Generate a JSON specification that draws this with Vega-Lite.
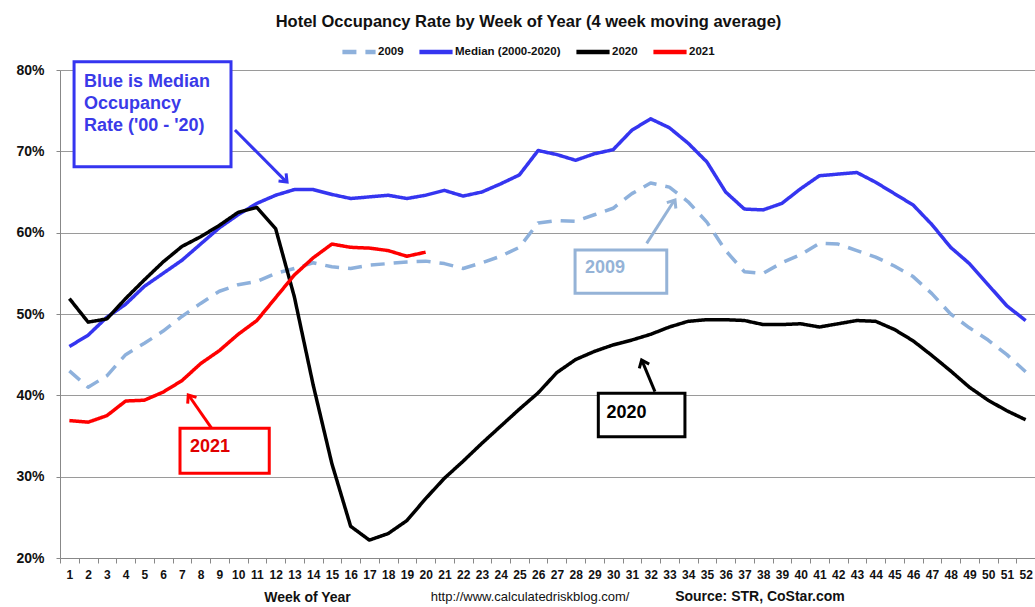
{
  "$schema": "https://vega.github.io/schema/vega-lite/v6.json",
  "width": 975,
  "height": 488,
  "autosize": {"type": "none"},
  "padding": {"left": 60, "top": 70, "right": 0, "bottom": 49},
  "background": "white",
  "title": {
    "text": "Hotel Occupancy Rate by  Week of Year (4 week moving average)",
    "anchor": "middle",
    "dx": -19,
    "offset": 3,
    "font": "Liberation Sans Narrow, Arial Narrow, sans-serif",
    "fontSize": 16.5,
    "fontWeight": "bold",
    "color": "#111111"
  },
  "config": {
    "view": {"stroke": null},
    "font": "Liberation Sans"
  },
  "datasets": {
    "occ": [
      {"week":1,"series":"2009","pct":43.0},{"week":2,"series":"2009","pct":41.0},{"week":3,"series":"2009","pct":42.4},{"week":4,"series":"2009","pct":45.0},{"week":5,"series":"2009","pct":46.4},{"week":6,"series":"2009","pct":47.9},{"week":7,"series":"2009","pct":49.7},{"week":8,"series":"2009","pct":51.3},{"week":9,"series":"2009","pct":52.8},{"week":10,"series":"2009","pct":53.6},{"week":11,"series":"2009","pct":54.0},{"week":12,"series":"2009","pct":55.0},{"week":13,"series":"2009","pct":55.6},{"week":14,"series":"2009","pct":56.3},{"week":15,"series":"2009","pct":55.8},{"week":16,"series":"2009","pct":55.6},{"week":17,"series":"2009","pct":56.0},{"week":18,"series":"2009","pct":56.2},{"week":19,"series":"2009","pct":56.4},{"week":20,"series":"2009","pct":56.5},{"week":21,"series":"2009","pct":56.2},{"week":22,"series":"2009","pct":55.6},{"week":23,"series":"2009","pct":56.3},{"week":24,"series":"2009","pct":57.1},{"week":25,"series":"2009","pct":58.2},{"week":26,"series":"2009","pct":61.2},{"week":27,"series":"2009","pct":61.5},{"week":28,"series":"2009","pct":61.4},{"week":29,"series":"2009","pct":62.2},{"week":30,"series":"2009","pct":63.0},{"week":31,"series":"2009","pct":64.8},{"week":32,"series":"2009","pct":66.1},{"week":33,"series":"2009","pct":65.6},{"week":34,"series":"2009","pct":63.8},{"week":35,"series":"2009","pct":61.3},{"week":36,"series":"2009","pct":57.8},{"week":37,"series":"2009","pct":55.2},{"week":38,"series":"2009","pct":55.0},{"week":39,"series":"2009","pct":56.3},{"week":40,"series":"2009","pct":57.3},{"week":41,"series":"2009","pct":58.7},{"week":42,"series":"2009","pct":58.6},{"week":43,"series":"2009","pct":57.8},{"week":44,"series":"2009","pct":57.0},{"week":45,"series":"2009","pct":55.9},{"week":46,"series":"2009","pct":54.6},{"week":47,"series":"2009","pct":52.5},{"week":48,"series":"2009","pct":50.0},{"week":49,"series":"2009","pct":48.3},{"week":50,"series":"2009","pct":46.8},{"week":51,"series":"2009","pct":45.0},{"week":52,"series":"2009","pct":42.9},
      {"week":1,"series":"Median (2000-2020)","pct":46.0},{"week":2,"series":"Median (2000-2020)","pct":47.4},{"week":3,"series":"Median (2000-2020)","pct":49.6},{"week":4,"series":"Median (2000-2020)","pct":51.2},{"week":5,"series":"Median (2000-2020)","pct":53.4},{"week":6,"series":"Median (2000-2020)","pct":55.0},{"week":7,"series":"Median (2000-2020)","pct":56.6},{"week":8,"series":"Median (2000-2020)","pct":58.6},{"week":9,"series":"Median (2000-2020)","pct":60.6},{"week":10,"series":"Median (2000-2020)","pct":62.2},{"week":11,"series":"Median (2000-2020)","pct":63.6},{"week":12,"series":"Median (2000-2020)","pct":64.6},{"week":13,"series":"Median (2000-2020)","pct":65.3},{"week":14,"series":"Median (2000-2020)","pct":65.3},{"week":15,"series":"Median (2000-2020)","pct":64.7},{"week":16,"series":"Median (2000-2020)","pct":64.2},{"week":17,"series":"Median (2000-2020)","pct":64.4},{"week":18,"series":"Median (2000-2020)","pct":64.6},{"week":19,"series":"Median (2000-2020)","pct":64.2},{"week":20,"series":"Median (2000-2020)","pct":64.6},{"week":21,"series":"Median (2000-2020)","pct":65.2},{"week":22,"series":"Median (2000-2020)","pct":64.5},{"week":23,"series":"Median (2000-2020)","pct":65.0},{"week":24,"series":"Median (2000-2020)","pct":66.0},{"week":25,"series":"Median (2000-2020)","pct":67.1},{"week":26,"series":"Median (2000-2020)","pct":70.1},{"week":27,"series":"Median (2000-2020)","pct":69.6},{"week":28,"series":"Median (2000-2020)","pct":68.9},{"week":29,"series":"Median (2000-2020)","pct":69.7},{"week":30,"series":"Median (2000-2020)","pct":70.2},{"week":31,"series":"Median (2000-2020)","pct":72.6},{"week":32,"series":"Median (2000-2020)","pct":74.0},{"week":33,"series":"Median (2000-2020)","pct":72.9},{"week":34,"series":"Median (2000-2020)","pct":71.0},{"week":35,"series":"Median (2000-2020)","pct":68.7},{"week":36,"series":"Median (2000-2020)","pct":65.0},{"week":37,"series":"Median (2000-2020)","pct":62.9},{"week":38,"series":"Median (2000-2020)","pct":62.8},{"week":39,"series":"Median (2000-2020)","pct":63.6},{"week":40,"series":"Median (2000-2020)","pct":65.4},{"week":41,"series":"Median (2000-2020)","pct":67.0},{"week":42,"series":"Median (2000-2020)","pct":67.2},{"week":43,"series":"Median (2000-2020)","pct":67.4},{"week":44,"series":"Median (2000-2020)","pct":66.2},{"week":45,"series":"Median (2000-2020)","pct":64.8},{"week":46,"series":"Median (2000-2020)","pct":63.4},{"week":47,"series":"Median (2000-2020)","pct":61.0},{"week":48,"series":"Median (2000-2020)","pct":58.2},{"week":49,"series":"Median (2000-2020)","pct":56.2},{"week":50,"series":"Median (2000-2020)","pct":53.6},{"week":51,"series":"Median (2000-2020)","pct":51.0},{"week":52,"series":"Median (2000-2020)","pct":49.2},
      {"week":1,"series":"2020","pct":51.9},{"week":2,"series":"2020","pct":49.0},{"week":3,"series":"2020","pct":49.4},{"week":4,"series":"2020","pct":51.9},{"week":5,"series":"2020","pct":54.2},{"week":6,"series":"2020","pct":56.4},{"week":7,"series":"2020","pct":58.3},{"week":8,"series":"2020","pct":59.5},{"week":9,"series":"2020","pct":60.9},{"week":10,"series":"2020","pct":62.5},{"week":11,"series":"2020","pct":63.1},{"week":12,"series":"2020","pct":60.5},{"week":13,"series":"2020","pct":52.1},{"week":14,"series":"2020","pct":41.3},{"week":15,"series":"2020","pct":31.6},{"week":16,"series":"2020","pct":23.9},{"week":17,"series":"2020","pct":22.2},{"week":18,"series":"2020","pct":23.0},{"week":19,"series":"2020","pct":24.6},{"week":20,"series":"2020","pct":27.3},{"week":21,"series":"2020","pct":29.8},{"week":22,"series":"2020","pct":31.9},{"week":23,"series":"2020","pct":34.1},{"week":24,"series":"2020","pct":36.2},{"week":25,"series":"2020","pct":38.3},{"week":26,"series":"2020","pct":40.3},{"week":27,"series":"2020","pct":42.8},{"week":28,"series":"2020","pct":44.4},{"week":29,"series":"2020","pct":45.4},{"week":30,"series":"2020","pct":46.2},{"week":31,"series":"2020","pct":46.8},{"week":32,"series":"2020","pct":47.5},{"week":33,"series":"2020","pct":48.4},{"week":34,"series":"2020","pct":49.1},{"week":35,"series":"2020","pct":49.3},{"week":36,"series":"2020","pct":49.3},{"week":37,"series":"2020","pct":49.2},{"week":38,"series":"2020","pct":48.7},{"week":39,"series":"2020","pct":48.7},{"week":40,"series":"2020","pct":48.8},{"week":41,"series":"2020","pct":48.4},{"week":42,"series":"2020","pct":48.8},{"week":43,"series":"2020","pct":49.2},{"week":44,"series":"2020","pct":49.1},{"week":45,"series":"2020","pct":48.1},{"week":46,"series":"2020","pct":46.7},{"week":47,"series":"2020","pct":44.9},{"week":48,"series":"2020","pct":43.0},{"week":49,"series":"2020","pct":41.0},{"week":50,"series":"2020","pct":39.4},{"week":51,"series":"2020","pct":38.1},{"week":52,"series":"2020","pct":37.0},
      {"week":1,"series":"2021","pct":36.9},{"week":2,"series":"2021","pct":36.7},{"week":3,"series":"2021","pct":37.5},{"week":4,"series":"2021","pct":39.3},{"week":5,"series":"2021","pct":39.4},{"week":6,"series":"2021","pct":40.4},{"week":7,"series":"2021","pct":41.8},{"week":8,"series":"2021","pct":43.9},{"week":9,"series":"2021","pct":45.5},{"week":10,"series":"2021","pct":47.5},{"week":11,"series":"2021","pct":49.2},{"week":12,"series":"2021","pct":52.0},{"week":13,"series":"2021","pct":54.8},{"week":14,"series":"2021","pct":56.9},{"week":15,"series":"2021","pct":58.6},{"week":16,"series":"2021","pct":58.2},{"week":17,"series":"2021","pct":58.1},{"week":18,"series":"2021","pct":57.8},{"week":19,"series":"2021","pct":57.1},{"week":20,"series":"2021","pct":57.6}
    ],
    "one": [{}]
  },
  "encoding": {
    "x": {
      "type": "quantitative",
      "scale": {"domain": [0.5, 52.5], "nice": false, "zero": false},
      "axis": {
        "values": [1,2,3,4,5,6,7,8,9,10,11,12,13,14,15,16,17,18,19,20,21,22,23,24,25,26,27,28,29,30,31,32,33,34,35,36,37,38,39,40,41,42,43,44,45,46,47,48,49,50,51,52],
        "tickOffset": -9.375,
        "labelOffset": 9.375,
        "grid": false,
        "tickSize": 5,
        "tickColor": "#888888",
        "domainColor": "#888888",
        "labelFont": "Liberation Sans Narrow, Arial Narrow, sans-serif",
        "labelFontSize": 12,
        "labelFontWeight": "bold",
        "labelColor": "#111111",
        "labelPadding": 6,
        "labelFlush": false,
        "labelOverlap": false,
        "title": "Week of Year",
        "titleFont": "Liberation Sans Narrow, Arial Narrow, sans-serif",
        "titleFontSize": 14,
        "titleFontWeight": "bold",
        "titleColor": "#111111",
        "titleX": 247,
        "titleY": 32
      }
    },
    "y": {
      "type": "quantitative",
      "scale": {"domain": [20, 80], "nice": false, "zero": false},
      "axis": {
        "values": [20,30,40,50,60,70,80],
        "labelExpr": "datum.value + '%'",
        "grid": true,
        "gridColor": "#9a9a9a",
        "gridWidth": 1,
        "domainColor": "#888888",
        "tickColor": "#888888",
        "tickSize": 4,
        "labelFontSize": 14,
        "labelFontWeight": "bold",
        "labelColor": "#111111",
        "labelPadding": 12,
        "title": null
      }
    }
  },
  "layer": [
    {
      "data": {"name": "occ"},
      "mark": {"type": "line", "strokeWidth": 3.5, "strokeJoin": "round", "clip": true},
      "encoding": {
        "x": {"field": "week", "type": "quantitative"},
        "y": {"field": "pct", "type": "quantitative"},
        "color": {
          "field": "series",
          "type": "nominal",
          "scale": {"domain": ["2009", "Median (2000-2020)", "2020", "2021"], "range": ["#8eb1dc", "#3535f0", "#000000", "#ff0000"]},
          "legend": {
            "orient": "none",
            "legendX": 280,
            "legendY": -37,
            "direction": "horizontal",
            "title": null,
            "symbolType": "stroke",
            "symbolSize": 1100,
            "symbolStrokeWidth": 4.5,
            "labelFontSize": 11.5,
            "labelFontWeight": "bold",
            "labelColor": "#111111",
            "labelOffset": 0,
            "columnPadding": 6
          }
        },
        "strokeDash": {
          "field": "series",
          "type": "nominal",
          "scale": {"domain": ["2009", "Median (2000-2020)", "2020", "2021"], "range": [[14, 9], [1, 0], [1, 0], [1, 0]]},
          "legend": null
        }
      }
    },
    {
      "data": {"name": "one"},
      "mark": {"type": "rect", "fill": "white", "stroke": "#3535f0", "strokeWidth": 3},
      "encoding": {"x": {"datum": 1.25}, "x2": {"datum": 9.62}, "y": {"datum": 81.0}, "y2": {"datum": 68.1}}
    },
    {
      "data": {"name": "one"},
      "mark": {"type": "text", "text": ["Blue is Median", "Occupancy", "Rate ('00 - '20)"], "align": "left", "baseline": "alphabetic", "lineHeight": 22, "fontSize": 18, "fontWeight": "bold", "color": "#3a3ae8"},
      "encoding": {"x": {"datum": 1.78}, "y": {"datum": 77.95}}
    },
    {
      "data": {"name": "one"},
      "mark": {"type": "rule", "stroke": "#3535f0", "strokeWidth": 3},
      "encoding": {"x": {"datum": 9.83}, "x2": {"datum": 12.55}, "y": {"datum": 72.62}, "y2": {"datum": 66.3}}
    },
    {
      "data": {"name": "one"},
      "mark": {"type": "point", "shape": "M -1 -0.8 L 0 0 L -1 0.8", "filled": false, "stroke": "#3535f0", "strokeWidth": 3, "size": 180, "angle": 45, "opacity": 1},
      "encoding": {"x": {"datum": 12.61}, "y": {"datum": 66.23}}
    },
    {
      "data": {"name": "one"},
      "mark": {"type": "rect", "fill": "white", "stroke": "#ff0000", "strokeWidth": 3},
      "encoding": {"x": {"datum": 6.9}, "x2": {"datum": 11.66}, "y": {"datum": 35.94}, "y2": {"datum": 30.41}}
    },
    {
      "data": {"name": "one"},
      "mark": {"type": "text", "text": "2021", "align": "left", "baseline": "middle", "fontSize": 18, "fontWeight": "bold", "color": "#e00000"},
      "encoding": {"x": {"datum": 7.43}, "y": {"datum": 33.69}}
    },
    {
      "data": {"name": "one"},
      "mark": {"type": "rule", "stroke": "#ff0000", "strokeWidth": 3},
      "encoding": {"x": {"datum": 8.59}, "x2": {"datum": 7.37}, "y": {"datum": 35.94}, "y2": {"datum": 39.98}}
    },
    {
      "data": {"name": "one"},
      "mark": {"type": "point", "shape": "M -1 -0.8 L 0 0 L -1 0.8", "filled": false, "stroke": "#ff0000", "strokeWidth": 3, "size": 180, "angle": 235, "opacity": 1},
      "encoding": {"x": {"datum": 7.34}, "y": {"datum": 40.04}}
    },
    {
      "data": {"name": "one"},
      "mark": {"type": "rect", "fill": "white", "stroke": "#95b3d7", "strokeWidth": 3},
      "encoding": {"x": {"datum": 27.97}, "x2": {"datum": 32.86}, "y": {"datum": 57.87}, "y2": {"datum": 52.54}}
    },
    {
      "data": {"name": "one"},
      "mark": {"type": "text", "text": "2009", "align": "left", "baseline": "middle", "fontSize": 18, "fontWeight": "bold", "color": "#95b3d7"},
      "encoding": {"x": {"datum": 28.5}, "y": {"datum": 55.69}}
    },
    {
      "data": {"name": "one"},
      "mark": {"type": "rule", "stroke": "#95b3d7", "strokeWidth": 3},
      "encoding": {"x": {"datum": 31.79}, "x2": {"datum": 33.26}, "y": {"datum": 58.69}, "y2": {"datum": 63.95}}
    },
    {
      "data": {"name": "one"},
      "mark": {"type": "point", "shape": "M -1 -0.8 L 0 0 L -1 0.8", "filled": false, "stroke": "#95b3d7", "strokeWidth": 3, "size": 180, "angle": 303, "opacity": 1},
      "encoding": {"x": {"datum": 33.3}, "y": {"datum": 64.02}}
    },
    {
      "data": {"name": "one"},
      "mark": {"type": "rect", "fill": "white", "stroke": "#000000", "strokeWidth": 3},
      "encoding": {"x": {"datum": 29.21}, "x2": {"datum": 33.83}, "y": {"datum": 40.25}, "y2": {"datum": 34.91}}
    },
    {
      "data": {"name": "one"},
      "mark": {"type": "text", "text": "2020", "align": "left", "baseline": "middle", "fontSize": 18, "fontWeight": "bold", "color": "#000000"},
      "encoding": {"x": {"datum": 29.65}, "y": {"datum": 37.79}}
    },
    {
      "data": {"name": "one"},
      "mark": {"type": "rule", "stroke": "#000000", "strokeWidth": 3},
      "encoding": {"x": {"datum": 32.23}, "x2": {"datum": 31.54}, "y": {"datum": 40.45}, "y2": {"datum": 44.27}}
    },
    {
      "data": {"name": "one"},
      "mark": {"type": "point", "shape": "M -1 -0.8 L 0 0 L -1 0.8", "filled": false, "stroke": "#000000", "strokeWidth": 3, "size": 180, "angle": 247, "opacity": 1},
      "encoding": {"x": {"datum": 31.52}, "y": {"datum": 44.34}}
    },
    {
      "data": {"name": "one"},
      "mark": {"type": "text", "text": "http://www.calculatedriskblog.com/", "align": "center", "baseline": "middle", "font": "Liberation Sans Narrow, Arial Narrow, sans-serif", "fontSize": 13, "color": "#111111"},
      "encoding": {"x": {"datum": 25.57}, "y": {"datum": 15.2}}
    },
    {
      "data": {"name": "one"},
      "mark": {"type": "text", "text": "Source: STR, CoStar.com", "align": "center", "baseline": "middle", "font": "Liberation Sans Narrow, Arial Narrow, sans-serif", "fontSize": 14, "fontWeight": "bold", "color": "#111111"},
      "encoding": {"x": {"datum": 37.83}, "y": {"datum": 15.2}}
    }
  ]
}
